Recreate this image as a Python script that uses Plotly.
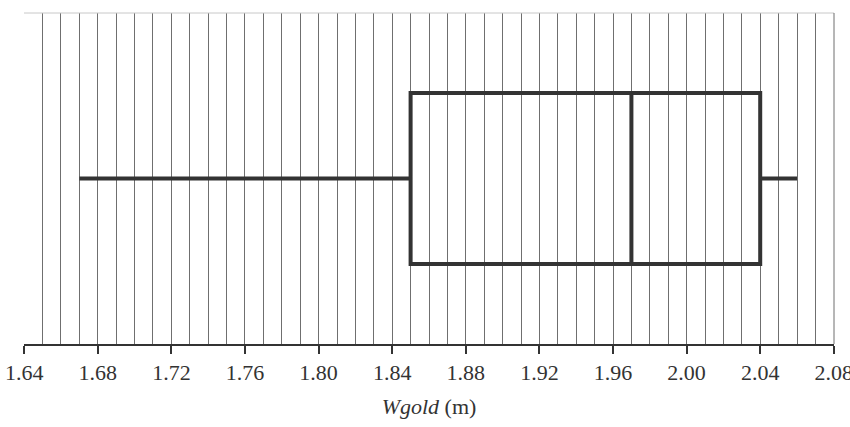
import plotly.graph_objects as go

# five-number summary (metres)
q1 = [1.85]
median = [1.97]
q3 = [2.04]
lower_fence = [1.67]
upper_fence = [2.06]
category = [0]

x_range = [1.6399, 2.0801]
tick_vals = [1.64, 1.68, 1.72, 1.76, 1.80, 1.84, 1.88, 1.92, 1.96, 2.00, 2.04, 2.08]
tick_text = ['1.64', '1.68', '1.72', '1.76', '1.80', '1.84', '1.88', '1.92', '1.96',
             '2.00', '2.04', '2.08']
minor_start = 1.64
minor_step = 0.01

line_col = '#333333'
grid_col = '#6f6f6f'
serif = 'Liberation Serif'

fig = go.Figure()
fig.add_trace(go.Box(
    y=category, q1=q1, median=median, q3=q3,
    lowerfence=lower_fence, upperfence=upper_fence,
    orientation='h', width=0.517, whiskerwidth=0,
    line=dict(color=line_col, width=4),
    fillcolor='rgba(0,0,0,0)', hoverinfo='skip', showlegend=False,
))

fig.update_layout(
    width=850, height=427,
    margin=dict(l=24, r=16, t=13, b=83),
    paper_bgcolor='white', plot_bgcolor='white',
    font=dict(family=serif, size=22, color='#333333'),
    xaxis=dict(
        range=x_range, tickmode='array', tickvals=tick_vals, ticktext=tick_text,
        ticklabeloverflow='allow',
        ticks='outside', ticklen=8, tickwidth=2, tickcolor=line_col,
        showline=True, linecolor=line_col, linewidth=1.5,
        showgrid=True, gridcolor=grid_col, gridwidth=1,
        minor=dict(dtick=minor_step, tick0=minor_start, showgrid=True,
                   gridcolor=grid_col, gridwidth=1, ticks=''),
        zeroline=False, automargin=False,
        title=dict(text='<i>Wgold</i> (m)', standoff=14,
                   font=dict(family=serif, size=22)),
    ),
    yaxis=dict(range=[-0.5, 0.5], showticklabels=False, showgrid=False,
               zeroline=False, ticks='', automargin=False),
    shapes=[dict(type='line', xref='paper', yref='paper', x0=0, x1=1, y0=1, y1=1,
                 line=dict(color='#c8c8c8', width=1)),
            dict(type='line', xref='paper', yref='paper', x0=1, x1=1, y0=0, y1=1,
                 line=dict(color=grid_col, width=1))],
)

# drop the default body margin so the figure sits at the window's corner
fig.write_html('out.html', config={'displayModeBar': False},
               post_script="document.body.style.margin='0';")
